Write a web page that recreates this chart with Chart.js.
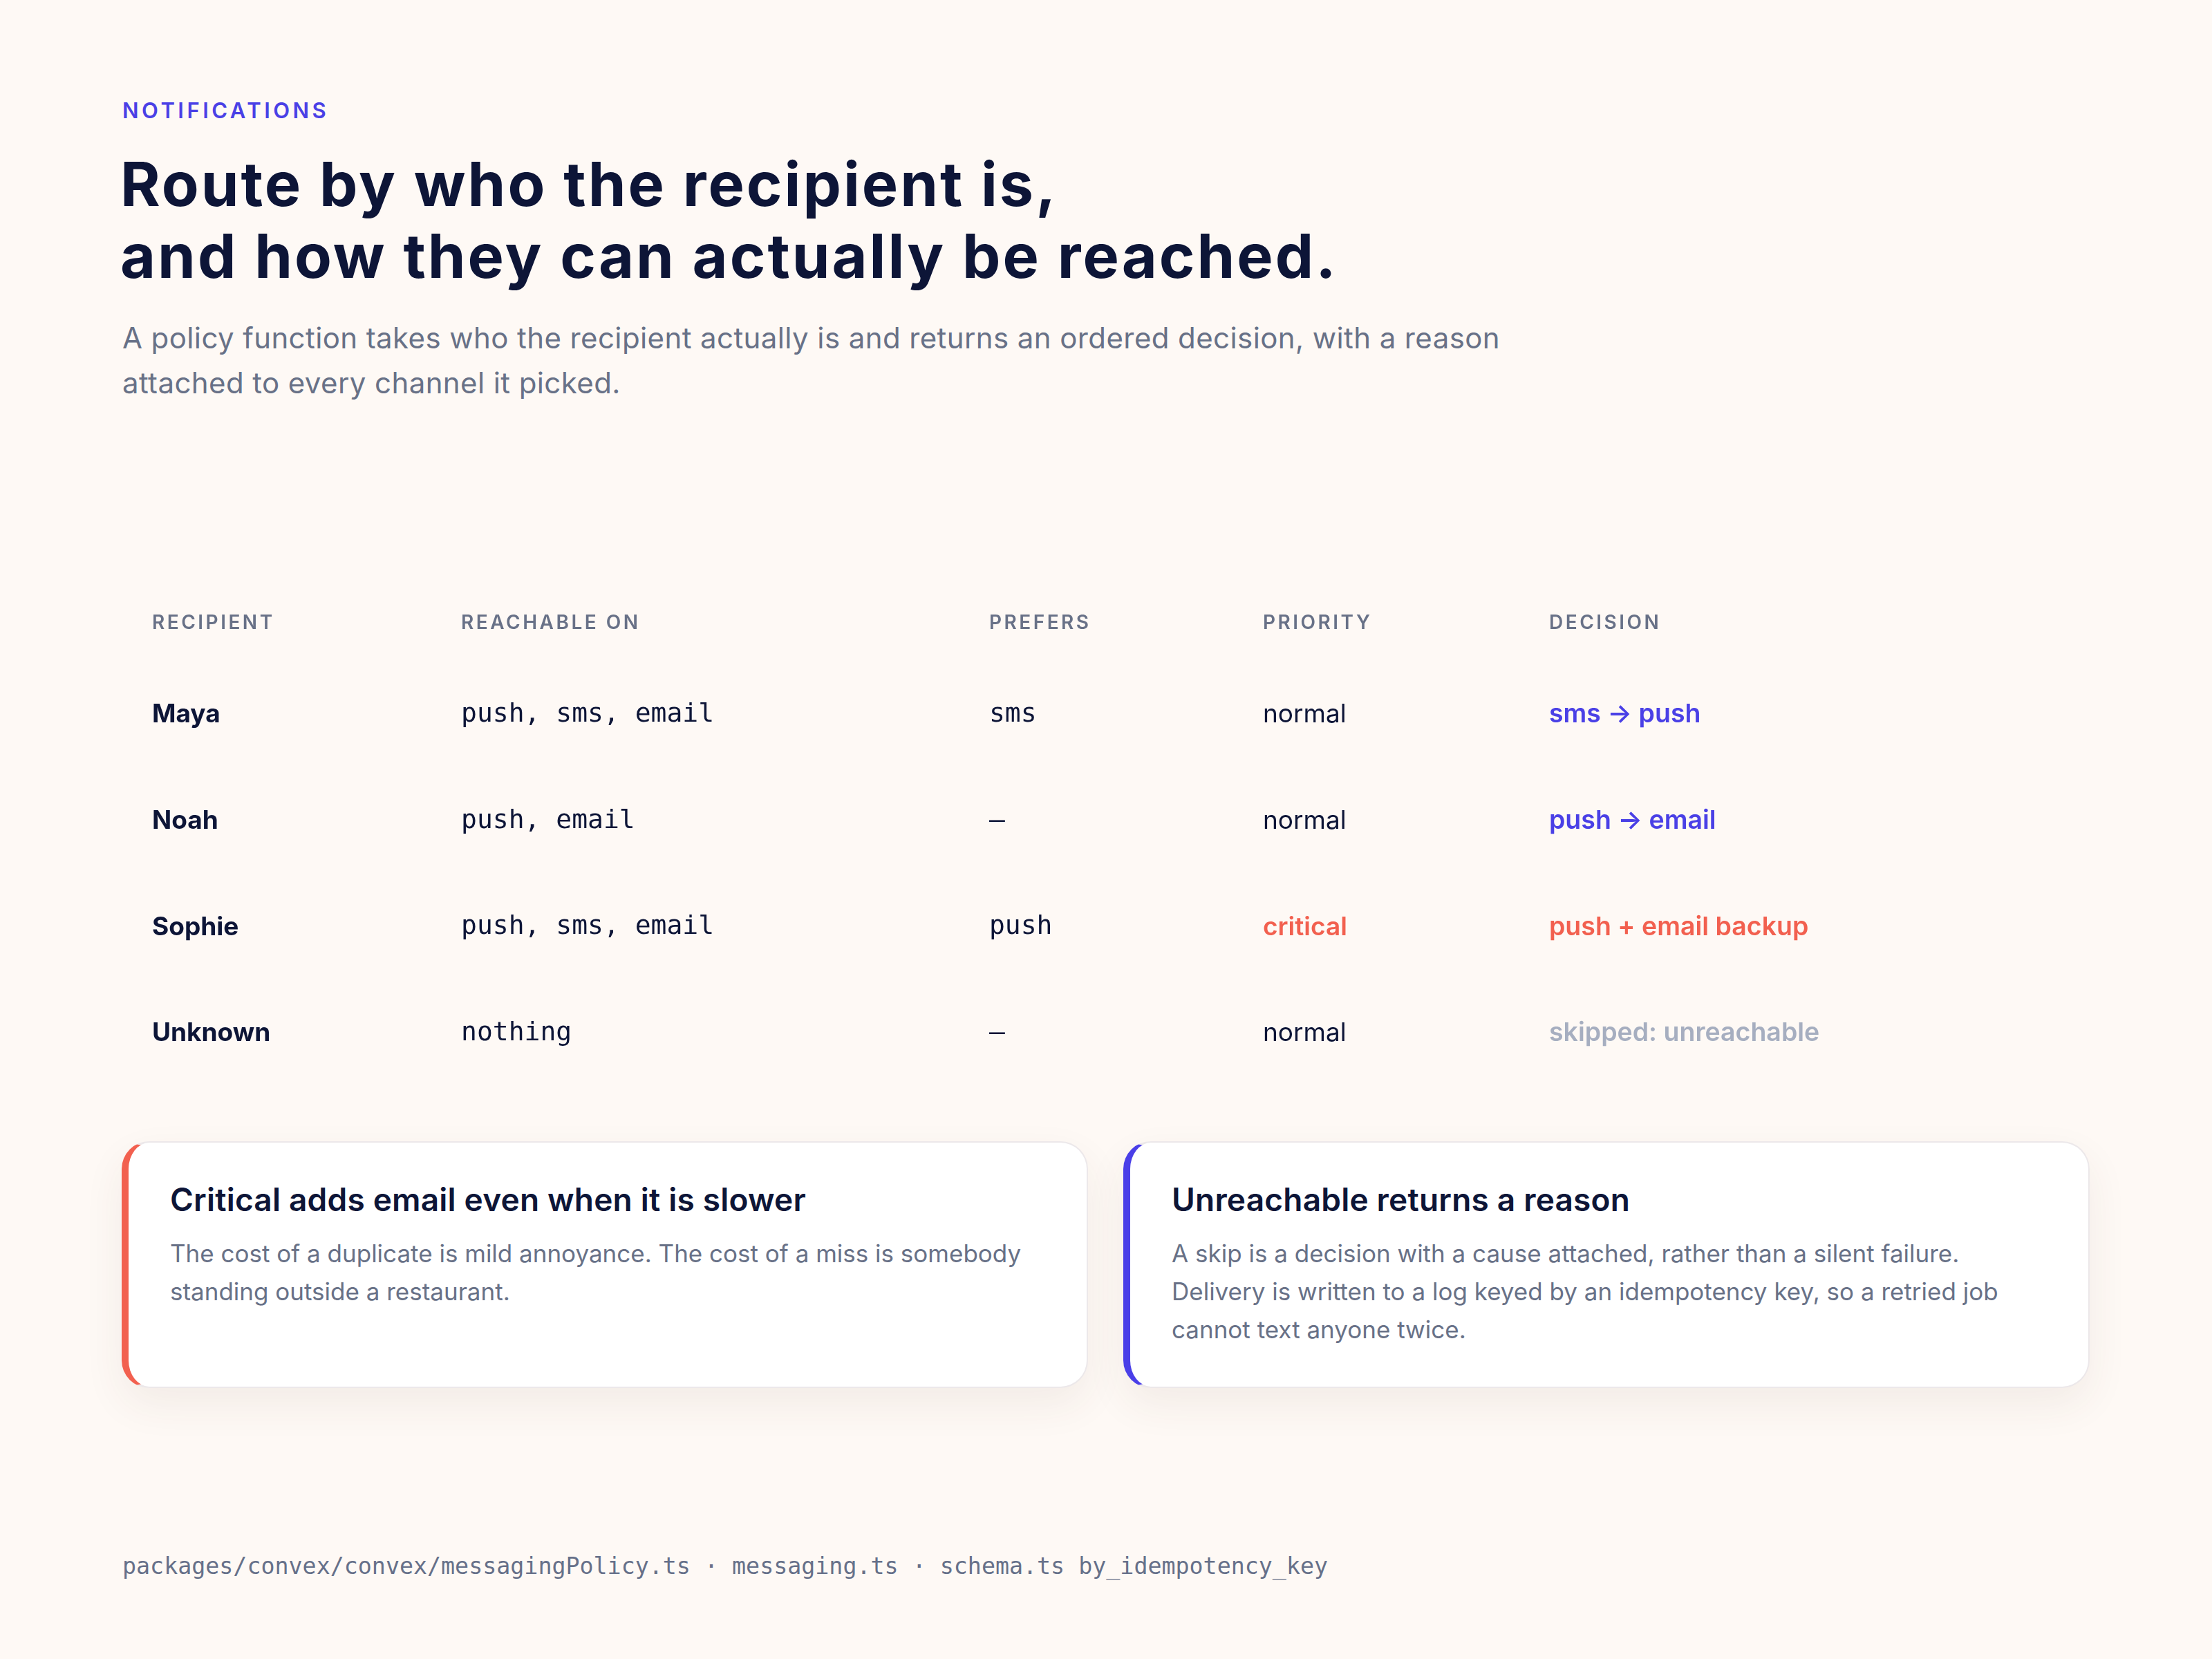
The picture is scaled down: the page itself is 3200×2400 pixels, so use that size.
<!DOCTYPE html>
<html>
<head>
<meta charset="utf-8">
<title>Notifications routing policy</title>
<script src="https://cdn.jsdelivr.net/npm/chart.js@4.4.1/dist/chart.umd.min.js"></script>
<style>
  html, body { margin: 0; padding: 0; }
  body {
    width: 3200px; height: 2400px; position: relative; overflow: hidden;
    background: #fef9f5; font-family: Inter, "Noto Sans", sans-serif; color: #0d1537;
  }
  .eyebrow {
    position: absolute; left: 177px; top: 144px;
    font-size: 31px; line-height: 32px; font-weight: 600; letter-spacing: 4.5px; color: #4a40e6;
  }
  h1 {
    position: absolute; left: 174px; top: 214px; margin: 0;
    font-size: 88px; line-height: 104px; font-weight: 700; letter-spacing: 3px;
    white-space: nowrap; color: #0d1537;
  }
  .lede {
    position: absolute; left: 177px; top: 456px; margin: 0;
    font-size: 42px; line-height: 65px; font-weight: 400; letter-spacing: 0.4px; color: #687187; white-space: nowrap;
  }
  .table-wrap { position: absolute; left: 220px; top: 823px; width: 2803px; height: 760px; }
  .card {
    position: absolute; top: 1651px; width: 1398px; height: 357px; box-sizing: border-box;
    background: #fff; border: 2px solid #ece8ea; border-left: 10px solid; border-radius: 40px;
    box-shadow: 0 24px 60px rgba(90, 50, 40, 0.07); padding: 54px 0 0 60px;
  }
  .card.critical { left: 176px; border-left-color: #f2604f; }
  .card.skip { left: 1625px; border-left-color: #4a3fe8; }
  .card h3 {
    margin: 0; font-size: 46px; line-height: 56px; font-weight: 600; letter-spacing: 0.2px; color: #0d1537;
  }
  .card p {
    margin: 23px 0 0; font-size: 35px; line-height: 55px; color: #687187; white-space: nowrap;
  }
  .footer {
    position: absolute; left: 177px; top: 2246px;
    font-family: "DejaVu Sans Mono", monospace; font-size: 33.3px; line-height: 40px; color: #667089;
  }
</style>
</head>
<body>
<div class="eyebrow">NOTIFICATIONS</div>
<h1>Route by who the recipient is,<br>and how they can actually be reached.</h1>
<p class="lede">A policy function takes who the recipient actually is and returns an ordered decision, with a reason<br>attached to every channel it picked.</p>

<div class="table-wrap"><canvas id="policyTable"></canvas></div>

<div class="card critical">
  <h3>Critical adds email even when it is slower</h3>
  <p>The cost of a duplicate is mild annoyance. The cost of a miss is somebody<br>standing outside a restaurant.</p>
</div>
<div class="card skip">
  <h3>Unreachable returns a reason</h3>
  <p>A skip is a decision with a cause attached, rather than a silent failure.<br>Delivery is written to a log keyed by an idempotency key, so a retried job<br>cannot text anyone twice.</p>
</div>

<div class="footer">packages/convex/convex/messagingPolicy.ts · messaging.ts · schema.ts by_idempotency_key</div>

<script>
// Routing table: one row per recipient
const columns = ['RECIPIENT', 'REACHABLE ON', 'PREFERS', 'PRIORITY', 'DECISION'];
const recipients = ['Maya', 'Noah', 'Sophie', 'Unknown'];
const reachableOn = ['push, sms, email', 'push, email', 'push, sms, email', 'nothing'];
const prefers = ['sms', '–', 'push', '–'];
const priorities = ['normal', 'normal', 'critical', 'normal'];
const decisions = ['sms → push', 'push → email', 'push + email backup', 'skipped: unreachable'];

// Left edge of every column, as a percentage of the table width
const columnStops = [0, 15.95, 43.2, 57.33, 72.1];

const ink = '#0d1537';
const blue = '#4a40e6';
const red = '#f2604f';
const muted = '#a6aec0';
const headerGray = '#687187';

function cellStyle(col, row) {
  const critical = priorities[row] === 'critical';
  if (col === 0) return { font: '700 37px Inter', color: ink };
  if (col === 1 || col === 2) return { font: '38px "DejaVu Sans Mono"', color: ink };
  if (col === 3) return { font: (critical ? '600' : '400') + ' 37px Inter', color: critical ? red : ink };
  if (reachableOn[row] === 'nothing') return { font: '600 37.5px Inter', color: muted };
  return { font: '600 37.5px Inter', color: critical ? red : blue };
}

const columnValues = [recipients, reachableOn, prefers, priorities, decisions];

// Header labels are the x-axis ticks, they get letter spacing
const headerSpacing = {
  id: 'headerSpacing',
  beforeDraw(chart) { chart.ctx.letterSpacing = '3.5px'; },
  beforeDatasetsDraw(chart) { chart.ctx.letterSpacing = '0px'; }
};

// Each point of a dataset is one cell; write its text at the point
const cellText = {
  id: 'cellText',
  afterDatasetsDraw(chart) {
    const ctx = chart.ctx;
    ctx.save();
    ctx.letterSpacing = '0px';
    ctx.textAlign = 'left';
    ctx.textBaseline = 'middle';
    chart.data.datasets.forEach((ds, c) => {
      chart.getDatasetMeta(c).data.forEach((pt, r) => {
        const st = cellStyle(c, r);
        ctx.font = st.font;
        ctx.fillStyle = st.color;
        ctx.fillText(ds.cells[r], pt.x, pt.y);
      });
    });
    ctx.restore();
  }
};

new Chart(document.getElementById('policyTable'), {
  type: 'scatter',
  data: {
    datasets: columnValues.map((vals, c) => ({
      label: columns[c],
      cells: vals,
      data: vals.map((v, r) => ({ x: columnStops[c], y: recipients[r] })),
      pointRadius: 0,
      pointHoverRadius: 0
    }))
  },
  options: {
    responsive: true,
    maintainAspectRatio: false,
    animation: false,
    layout: { padding: { top: 0, bottom: 11, left: 0, right: 0 } },
    plugins: { legend: { display: false }, tooltip: { enabled: false } },
    events: [],
    scales: {
      x: {
        type: 'linear',
        position: 'top',
        min: 0,
        max: 100,
        grid: { display: false, drawTicks: false },
        border: { display: false },
        afterBuildTicks: s => { s.ticks = columnStops.map(v => ({ value: v })); },
        afterFit: s => {
          s.height = 134;
          s.paddingLeft = 0;
          s.paddingRight = 0;
        },
        ticks: {
          align: 'start',
          padding: 39,
          autoSkip: false,
          maxRotation: 0,
          color: headerGray,
          font: { family: 'Inter', size: 28, weight: '600' },
          callback: (v, i) => columns[i]
        }
      },
      y: {
        type: 'category',
        labels: recipients,
        offset: true,
        display: false
      }
    }
  },
  plugins: [headerSpacing, cellText]
});
</script>
</body>
</html>
